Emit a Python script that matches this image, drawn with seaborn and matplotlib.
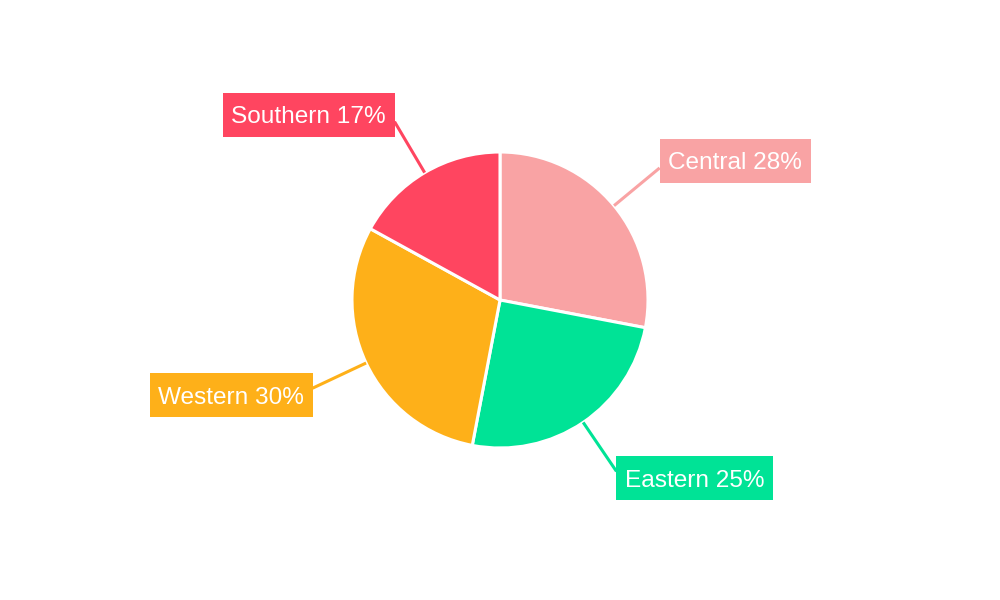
import numpy as np
import matplotlib
matplotlib.use("Agg")
import matplotlib.pyplot as plt
from matplotlib.patches import Rectangle
import seaborn as sns

# Chart data
regions = ["Central", "Eastern", "Western", "Southern"]
shares = [28, 25, 30, 17]
colors = ["#F9A3A4", "#00E396", "#FEB019", "#FF4560"]

sns.set_theme(style="white")
plt.rcParams["font.family"] = ["Liberation Sans", "DejaVu Sans"]

fig = plt.figure(figsize=(10, 6), dpi=100)
ax = fig.add_axes([0, 0, 1, 1])
ax.set_aspect("equal")
ax.axis("off")

cx, cy, r = 500, 300, 148
wedges, _ = ax.pie(shares, colors=colors, startangle=90, counterclock=False,
                   center=(cx, cy), radius=r,
                   wedgeprops=dict(edgecolor="white", linewidth=2.2))
ax.set_xlim(0, 1000)
ax.set_ylim(0, 600)

renderer = fig.canvas.get_renderer()
inv = ax.transData.inverted()

# Leader lines and boxed labels
total = sum(shares)
cum = 0
for name, val, col in zip(regions, shares, colors):
    mid = (cum + val / 2) / total * 2 * np.pi
    cum += val
    dx, dy = np.sin(mid), np.cos(mid)
    x0, y0 = cx + dx * r, cy + dy * r
    x1, y1 = cx + dx * r * 1.4, cy + dy * r * 1.4
    ax.plot([x0, x1], [y0, y1], color=col, lw=2.2, solid_capstyle="butt", zorder=3)
    side = 1 if dx > 0 else -1
    yc = y1 + np.sign(dy) * 7
    t = ax.text(x1 + side * 8.5, yc, f"{name} {val}%",
                ha="left" if side > 0 else "right", va="center_baseline",
                fontsize=17.6, color="white", zorder=5)
    bb = t.get_window_extent(renderer).transformed(inv)
    w = bb.width + 17
    left = x1 if side > 0 else x1 - w
    ax.add_patch(Rectangle((left, yc - 22), w, 44, fc=col, ec="none", zorder=4))

fig.savefig("out.png", dpi=100, facecolor="white")
